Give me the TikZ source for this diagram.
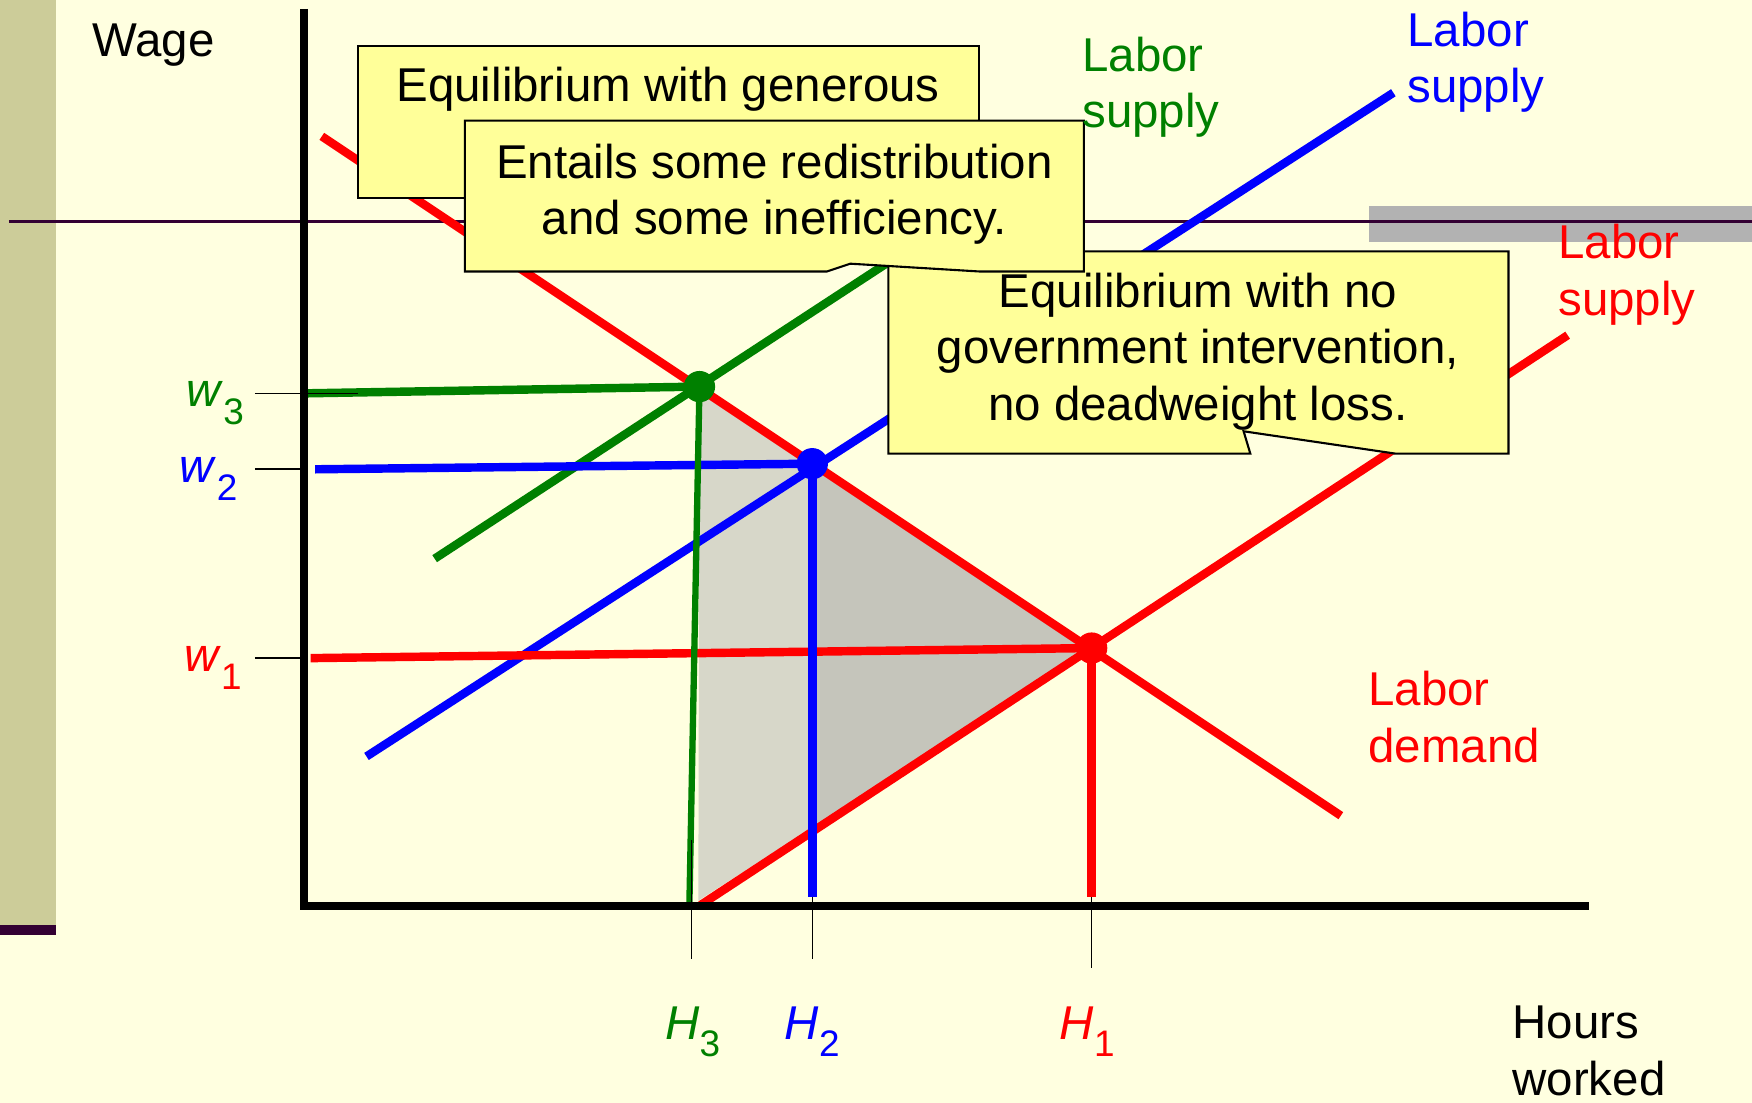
\documentclass[tikz,border=0pt]{standalone}
\usepackage{fontspec}
\setmainfont{Liberation Sans}
\usepackage{tikz}
\definecolor{slidebg}{HTML}{FFFFE0}
\definecolor{slideband}{HTML}{CCCC99}
\definecolor{slideline}{HTML}{330033}
\definecolor{slidegray}{HTML}{B2B2B2}
\definecolor{lbred}{HTML}{FF0000}
\definecolor{lbblue}{HTML}{0000FF}
\definecolor{lbgreen}{HTML}{008000}
\definecolor{notefill}{HTML}{FFFF99}
\definecolor{dwlight}{HTML}{D7D7C9}
\definecolor{dwdark}{HTML}{C5C5BB}
\newcommand{\lbsub}[2]{\textit{#1}\raisebox{-5pt}{\fontsize{10.5}{11}\selectfont#2}}

\begin{document}
\begin{tikzpicture}[x=0.11173mm,y=-0.11173mm,
  curve/.style={line width=2.4pt},
  axis/.style={line width=2.3pt,black},
  tick/.style={line width=0.45pt,black},
  note/.style={fill=notefill,draw=black,line width=0.6pt},
  txt/.style={font=\fontsize{13.5}{16}\selectfont,inner sep=0pt},
  sym/.style={font=\fontsize{13.5}{16}\selectfont,inner sep=0pt}]
  \useasboundingbox (0,0) rectangle (1568,987);
  \fill[slidebg] (0,0) rectangle (1568,987);
  \fill[slideband] (0,0) rectangle (50,828);
  \fill[slideline] (0,828) rectangle (50,837);
  \fill[slidegray] (1225,184) rectangle (1568,217);
  \draw[slideline,line width=0.9pt] (8,198) -- (1568,198);
  \coordinate (E1) at (977,580);
  \coordinate (E2) at (727,415);
  \coordinate (E3) at (626,346);
  \fill[dwlight] (E3) -- (E1) -- (625,806) -- cycle;
  \fill[dwdark] (E2) -- (E1) -- (727,744) -- cycle;
  \draw[curve,lbred] (288,122) -- (1200,730);
  \draw[curve,lbred] (627,810) -- (1403,300);
  \draw[curve,lbblue] (328,677) -- (1247,83);
  \draw[curve,lbgreen] (389,500) -- (940,140);
  \draw[curve,lbgreen] (275,352) -- (E3);
  \draw[curve,lbblue] (282,420) -- (E2);
  \draw[curve,lbred] (278,589) -- (E1);
  \draw[lbgreen,line width=1.8pt] (E3) -- (617,808);
  \draw[curve,lbblue] (E2) -- (727,803);
  \draw[curve,lbred] (E1) -- (977,803);
  \draw[axis] (272,8) -- (272,814);
  \draw[axis] (270,811) -- (1422,811);
  \foreach \y/\xe in {352/320,420/272,589/272}{\draw[tick] (228,\y) -- (\xe,\y);}
  \foreach \x/\ya/\yb in {619/752/858,727/803/858,977/803/866}{\draw[tick] (\x,\ya) -- (\x,\yb);}
  \foreach \p/\c in {E1/lbred,E2/lbblue,E3/lbgreen}{\fill[\c] (\p) circle (14);}
  \draw[note] (320,41) rectangle (876,177);
  \node[txt,anchor=base] (generous) at (598,91) {Equilibrium with generous};
  \draw[note] (795,225) -- (1350,225) -- (1350,406) -- (1249,406) -- (1113,386)
    -- (1119,406) -- (795,406) -- cycle;
  \node[txt,align=center,anchor=base] (nogov) at (1072,376)
    {Equilibrium with no\\government intervention,\\no deadweight loss.};
  \draw[note] (416,108) -- (970,108) -- (970,243) -- (877,243) -- (761,236)
    -- (740,243) -- (416,243) -- cycle;
  \node[txt,align=center,anchor=base] (entails) at (693,210)
    {Entails some redistribution\\and some inefficiency.};
  \node[txt,anchor=base west] (wage) at (82,51) {Wage};
  \node[txt,anchor=base west,align=left,text=lbgreen] (supgreen) at (968,114) {Labor\\supply};
  \node[txt,anchor=base west,align=left,text=lbblue] (supblue) at (1259,92) {Labor\\supply};
  \node[txt,anchor=base west,align=left,text=lbred] (supred) at (1394,282) {Labor\\supply};
  \node[txt,anchor=base west,align=left,text=lbred] (demred) at (1224,682) {Labor\\demand};
  \node[txt,anchor=base west,align=left] (hours) at (1353,980) {Hours\\worked};
  \node[sym,anchor=base east,text=lbgreen] (w3) at (219,364) {\lbsub{w}{3}};
  \node[sym,anchor=base east,text=lbblue] (w2) at (213,432) {\lbsub{w}{2}};
  \node[sym,anchor=base east,text=lbred] (w1) at (217,601) {\lbsub{w}{1}};
  \node[sym,anchor=base,text=lbgreen] (h3) at (620,930) {\lbsub{H}{3}};
  \node[sym,anchor=base,text=lbblue] (h2) at (727,930) {\lbsub{H}{2}};
  \node[sym,anchor=base,text=lbred] (h1) at (973,930) {\lbsub{H}{1}};
\end{tikzpicture}
\end{document}
